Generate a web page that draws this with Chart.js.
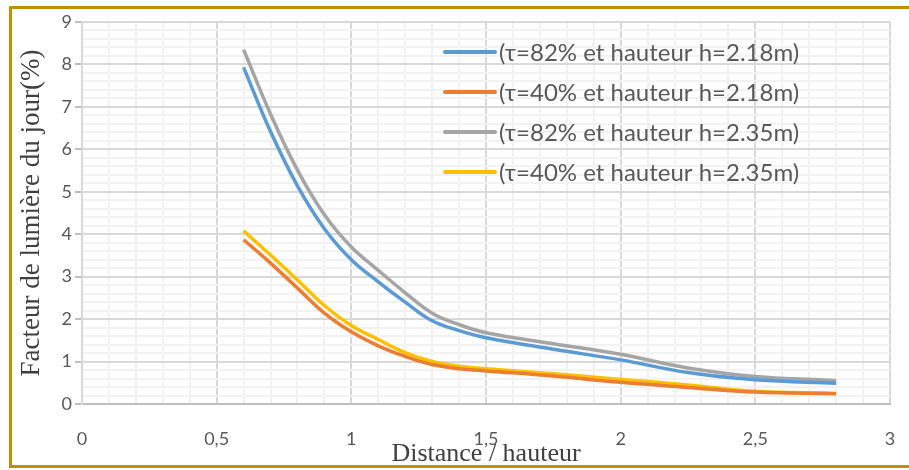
<!DOCTYPE html>
<html>
<head>
<meta charset="utf-8">
<script src="https://cdn.jsdelivr.net/npm/chart.js@4.4.1/dist/chart.umd.min.js"></script>
<style>
    html, body { margin: 0; padding: 0; background: #fff; overflow: hidden; }
    .wrap { position: relative; width: 909px; height: 470px; }
    .frame {
        position: absolute; left: 9px; top: 6px; width: 1000px; height: 462px;
        box-sizing: border-box; border: 3px solid #BF9000; pointer-events: none;
    }
    canvas { position: absolute; left: 0; top: 0; }
</style>
</head>
<body>
<div class="wrap">
    <canvas id="dfChart" width="909" height="470"></canvas>
    <div class="frame"></div>
</div>
<script>
// Distance / hauteur
const distances = [0.6, 0.7, 0.8, 0.9, 1.0, 1.1, 1.2, 1.3, 1.4, 1.5, 1.75, 2.0, 2.25, 2.5, 2.8];

// Facteur de lumière du jour (%)
const tau82h218 = [7.93, 6.42, 5.14, 4.13, 3.40, 2.88, 2.40, 1.96, 1.73, 1.56, 1.29, 1.04, 0.74, 0.57, 0.49];
const tau40h218 = [3.87, 3.32, 2.73, 2.14, 1.70, 1.37, 1.12, 0.93, 0.83, 0.78, 0.66, 0.51, 0.39, 0.28, 0.24];
const tau82h235 = [8.35, 6.83, 5.51, 4.46, 3.70, 3.15, 2.62, 2.14, 1.87, 1.68, 1.42, 1.17, 0.85, 0.65, 0.55];
const tau40h235 = [4.08, 3.51, 2.92, 2.32, 1.85, 1.52, 1.21, 1.00, 0.89, 0.83, 0.71, 0.58, 0.45, 0.30, 0.25];

const seriesLabels = [
    '(τ=82% et hauteur h=2.18m)',
    '(τ=40% et hauteur h=2.18m)',
    '(τ=82% et hauteur h=2.35m)',
    '(τ=40% et hauteur h=2.35m)'
];
const seriesColors = ['#5B9BD5', '#ED7D31', '#A5A5A5', '#FFC000'];

const xMajorStep = 0.5;
const yMajorStep = 1;

function isMajor(v, step) {
    const r = v / step;
    return Math.abs(r - Math.round(r)) < 1e-6;
}

function toPoints(values) {
    return values.map((v, i) => ({ x: distances[i], y: v }));
}

// Legend drawn inside the plot, like the Excel one
const insideLegend = {
    id: 'insideLegend',
    afterDraw(chart) {
        const ctx = chart.ctx;
        ctx.save();
        ctx.font = '24px Lato';
        ctx.textBaseline = 'middle';
        chart.data.datasets.forEach((ds, i) => {
            const y = 52 + i * 40;
            ctx.strokeStyle = ds.borderColor;
            ctx.lineWidth = 4;
            ctx.lineCap = 'round';
            ctx.beginPath();
            ctx.moveTo(445, y);
            ctx.lineTo(495, y);
            ctx.stroke();
            ctx.fillStyle = '#595959';
            ctx.fillText(ds.label, 499, y + 1);
        });
        ctx.restore();
    }
};

const datasets = [tau82h218, tau40h218, tau82h235, tau40h235].map((vals, i) => ({
    label: seriesLabels[i],
    data: toPoints(vals),
    borderColor: seriesColors[i],
    backgroundColor: seriesColors[i],
    borderWidth: 3.5,
    pointRadius: 0,
    tension: 0.4,
    fill: false
}));

new Chart(document.getElementById('dfChart').getContext('2d'), {
    type: 'line',
    data: { datasets },
    options: {
        responsive: false,
        animation: false,
        layout: { padding: { left: 14, right: 19, top: 22, bottom: 0 } },
        plugins: {
            legend: { display: false },
            tooltip: { enabled: false }
        },
        scales: {
            x: {
                type: 'linear',
                min: 0,
                max: 3,
                afterFit: (scale) => { scale.height = 66; },
                ticks: {
                    stepSize: 0.1,
                    maxTicksLimit: 100,
                    autoSkip: false,
                    maxRotation: 0,
                    padding: 8,
                    color: '#595959',
                    font: { family: 'Lato', size: 18 },
                    callback: (v) => isMajor(v, xMajorStep) ? String(v).replace('.', ',') : ''
                },
                grid: {
                    drawTicks: true,
                    tickLength: 16,
                    tickColor: 'rgba(0,0,0,0)',
                    color: (c) => c.tick && isMajor(c.tick.value, xMajorStep) ? '#D9D9D9' : '#F2F2F2',
                    lineWidth: 2
                },
                border: { color: '#BFBFBF', width: 2 },
                title: {
                    display: true,
                    text: 'Distance / hauteur',
                    color: '#404040',
                    font: { family: 'Liberation Serif', size: 26 },
                    padding: { top: 0, bottom: 0 }
                }
            },
            y: {
                min: 0,
                max: 9,
                afterFit: (scale) => { scale.width = 68; },
                ticks: {
                    stepSize: 0.2,
                    maxTicksLimit: 100,
                    autoSkip: false,
                    padding: 3,
                    color: '#595959',
                    font: { family: 'Lato', size: 18 },
                    callback: (v) => isMajor(v, yMajorStep) ? String(v) : ''
                },
                grid: {
                    tickLength: 7,
                    color: (c) => c.tick && isMajor(c.tick.value, yMajorStep) ? '#D9D9D9' : '#F2F2F2',
                    tickColor: (c) => c.tick && isMajor(c.tick.value, yMajorStep) ? '#BFBFBF' : 'rgba(0,0,0,0)',
                    lineWidth: 2
                },
                border: { color: '#D9D9D9', width: 2 },
                title: {
                    display: true,
                    text: 'Facteur de lumière du jour(%)',
                    color: '#404040',
                    font: { family: 'Liberation Serif', size: 27 },
                    padding: { top: 2, bottom: 0 }
                }
            }
        }
    },
    plugins: [insideLegend]
});
</script>
</body>
</html>
